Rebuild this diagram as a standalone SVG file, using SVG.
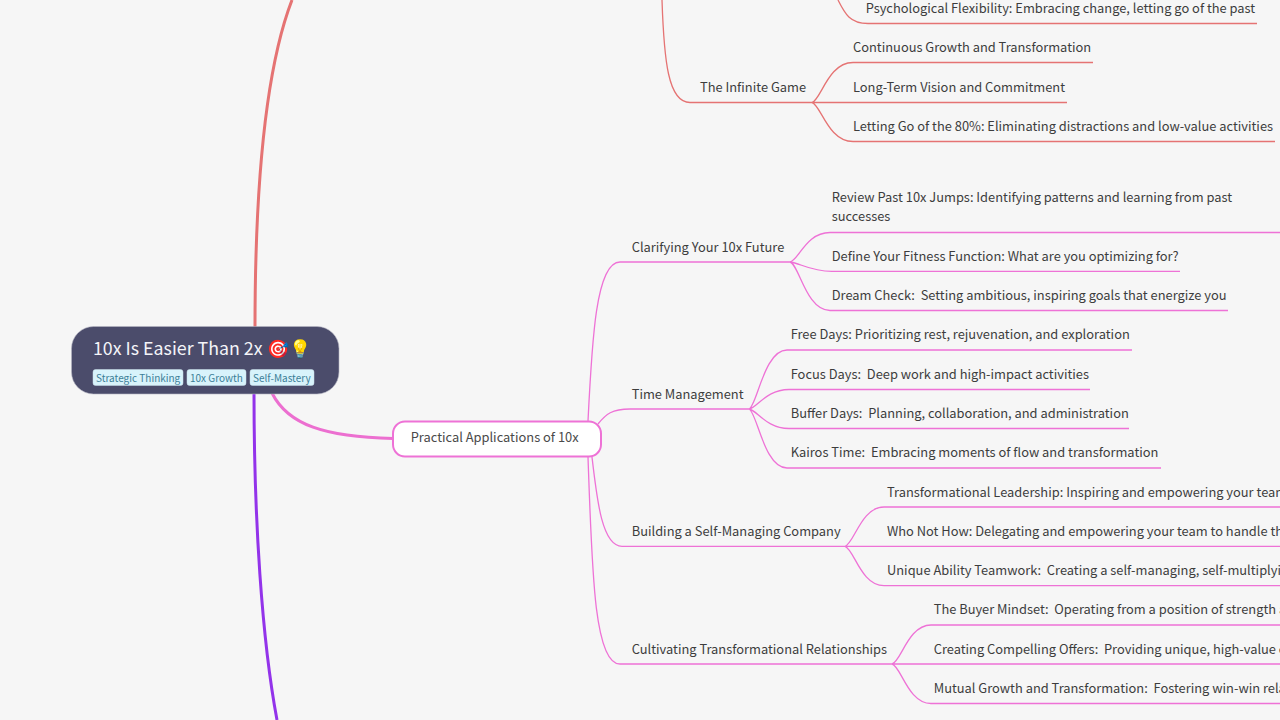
<svg xmlns="http://www.w3.org/2000/svg" width="1280" height="720" viewBox="0 0 1280 720">
<style>
text{font-family:"Noto Sans CJK SC","Noto Sans",sans-serif;font-size:12.86px;fill:#3d3d3d;white-space:pre}
.r{fill:none;stroke:#e57373;stroke-width:1.3}
.p{fill:none;stroke:#ee72d6;stroke-width:1.3}
.tag{fill:#d8f3fb;stroke:#c9dfe8;stroke-width:.5}
.tt{font-size:10px;fill:#3c7f98}
</style>
<rect width="1280" height="720" fill="#f6f6f6"/>
<g id="connectors">
<path d="M255 328C255 190 265 70 292 0" fill="none" stroke="#e57373" stroke-width="3"/>
<path d="M254 393C254 520 262 640 277 720" fill="none" stroke="#9333ea" stroke-width="3"/>
<path d="M272 393C288 425 325 437 393 438.500" fill="none" stroke="#ec6fd0" stroke-width="3"/>
<path class="r" d="M662 0C664 60 668 102.500 690 102.500H812M812 102.500C821 100 828 62.500 853 62.500H1093M812 102.500H1067M812 102.500C821 105 828 141.500 853 141.500H1275M838 0C845 14 850 23.500 868 23.500H1257"/>
<path class="p" d="M588 421C592 340 596 262 620 262H790M790 262C799 260 806 232.500 830 232.500H1280M790 262C800 263 810 271.300 832 271.300H1180M790 262C799 264 806 310.500 830 310.500H1228"/>
<path class="p" d="M598 424C606 414 612 409 630 409H749M749 409C757 406 764 350 787 350H1132M749 409C757 408 766 389.500 789 389.500H1090M749 409C757 410 766 428.500 789 428.500H1129M749 409C757 412 764 468 787 468H1161"/>
<path class="p" d="M592 457C597 500 602 546.300 622 546.300H845M845 546.300C854 544 861 507 884 507H1280M845 546.300H1280M845 546.300C854 549 861 585.700 884 585.700H1280"/>
<path class="p" d="M588 457C592 570 594 664 620 664H892M892 664C901 662 908 625 931 625H1280M892 664H1280M892 664C901 666 908 703.500 931 703.500H1280"/>
</g>
<g id="root">
<rect x="71.500" y="326.500" width="267.500" height="67.500" rx="22" fill="#4b4c6b" stroke="#b5b5c3" stroke-width=".6"/>
<text x="93" y="354.500" style="font-size:17.800px;fill:#f4f4f8">10x Is Easier Than 2x 🎯💡</text>
<rect class="tag" x="93" y="369.500" width="90" height="16" rx="2.500"/><text class="tt" x="96" y="382">Strategic Thinking</text>
<rect class="tag" x="187" y="369.500" width="59" height="16" rx="2.500"/><text class="tt" x="190" y="382">10x Growth</text>
<rect class="tag" x="250" y="369.500" width="64" height="16" rx="2.500"/><text class="tt" x="253" y="382">Self-Mastery</text>
</g>
<g id="practical">
<rect x="393" y="421.500" width="208" height="35" rx="12" fill="#fff" stroke="#ee72d6" stroke-width="2"/>
<text x="410.700" y="442" style="fill:#4a4a4a">Practical Applications of 10x</text>
</g>
<g id="labels">
<text x="865.700" y="13">Psychological Flexibility: Embracing change, letting go of the past</text>
<text x="700" y="91.500">The Infinite Game</text>
<text x="853" y="52">Continuous Growth and Transformation</text>
<text x="853" y="91.500">Long-Term Vision and Commitment</text>
<text x="853" y="131">Letting Go of the 80%: Eliminating distractions and low-value activities</text>
<text x="631.700" y="251.500">Clarifying Your 10x Future</text>
<text x="831.700" y="202">Review Past 10x Jumps: Identifying patterns and learning from past</text>
<text x="831.700" y="221">successes</text>
<text x="831.700" y="261">Define Your Fitness Function: What are you optimizing for?</text>
<text x="831.700" y="300">Dream Check:  Setting ambitious, inspiring goals that energize you</text>
<text x="631.700" y="399">Time Management</text>
<text x="790.700" y="339">Free Days: Prioritizing rest, rejuvenation, and exploration</text>
<text x="790.700" y="379">Focus Days:  Deep work and high-impact activities</text>
<text x="790.700" y="418">Buffer Days:  Planning, collaboration, and administration</text>
<text x="790.700" y="457">Kairos Time:  Embracing moments of flow and transformation</text>
<text x="631.700" y="536">Building a Self-Managing Company</text>
<text x="887" y="496.500">Transformational Leadership: Inspiring and empowering your team</text>
<text x="887" y="536">Who Not How: Delegating and empowering your team to handle the</text>
<text x="887" y="575">Unique Ability Teamwork:  Creating a self-managing, self-multiplying</text>
<text x="631.700" y="654">Cultivating Transformational Relationships</text>
<text x="933.700" y="614">The Buyer Mindset:  Operating from a position of strength and</text>
<text x="933.700" y="654">Creating Compelling Offers:  Providing unique, high-value offers</text>
<text x="933.700" y="693">Mutual Growth and Transformation:  Fostering win-win relationships</text>
</g>
</svg>
